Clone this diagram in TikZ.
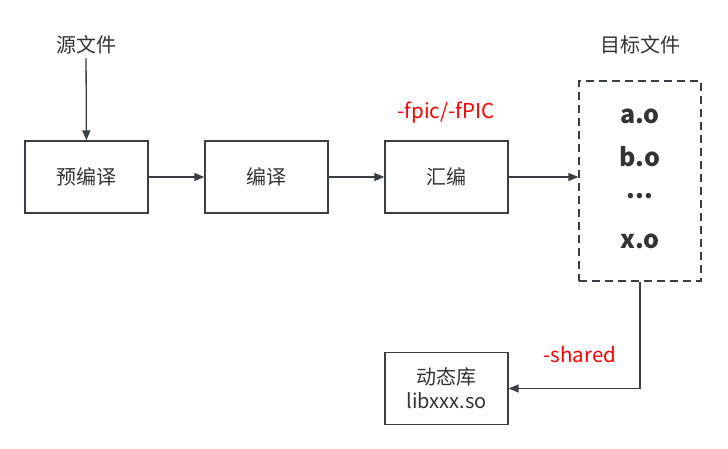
\documentclass[tikz,border=0pt]{standalone}
\usepackage{fontspec}
\newfontfamily\cjk{Noto Sans CJK SC}
\usetikzlibrary{arrows.meta}
\definecolor{linegray}{HTML}{3B3E42}
\definecolor{textgray}{HTML}{333333}
\newcommand{\threedots}{...}

\tikzset{
	stage/.style={draw=linegray, line width=1.3pt, minimum width=123pt, minimum height=72pt, inner sep=0pt, text=textgray, font=\cjk\fontsize{20}{24}\selectfont, align=center},
	label/.style={text=textgray, font=\cjk\fontsize{20}{24}\selectfont},
	flag/.style={text=red, font=\cjk\fontsize{20.5}{24}\selectfont},
	objfile/.style={text=textgray, font=\cjk\bfseries\fontsize{25}{28}\selectfont}
}

\begin{document}
\begin{tikzpicture}[x=1pt, y=-1pt, >={Triangle[length=10pt, width=8pt]}, line width=1.3pt, draw=linegray]
\useasboundingbox (0,0) rectangle (728,449);

% NODES
\node[label](src) at(86, 45) {源文件};
\node[stage](pre) at(86.5, 177) {预编译};
\node[stage](comp) at(266.5, 177) {编译};
\node[stage](asm) at(446.5, 177) {汇编};
\node[flag](fpic) at(446, 113) {-fpic/-fPIC};

\node[label](tgt) at(640, 45) {目标文件};
\node[draw=linegray, dash pattern=on 8pt off 5pt, minimum width=122pt, minimum height=200pt](obj) at(640, 181) {};
\foreach \n/\y/\t in{ao/116/a.o, bo/157/b.o, more/196/\threedots, xo/241/x.o}{
	\node[objfile](\n) at(640,\y) {\t};
}

\node[stage](lib) at(446.5, 388.5) {动态库\\libxxx.so};
\node[flag](shared) at(580, 354) {-shared};

% ARCS
\draw[->, color=linegray] (src) -- (pre);
\foreach \u/\v in{pre/comp, comp/asm}{
	\draw[->, color=linegray] (\u) -- (\v);
}
\draw[->, color=linegray] (asm.east) -- (asm.east -| obj.west);
\draw[->, color=linegray] (obj.south) |- (lib.east);

\end{tikzpicture}
\end{document}
